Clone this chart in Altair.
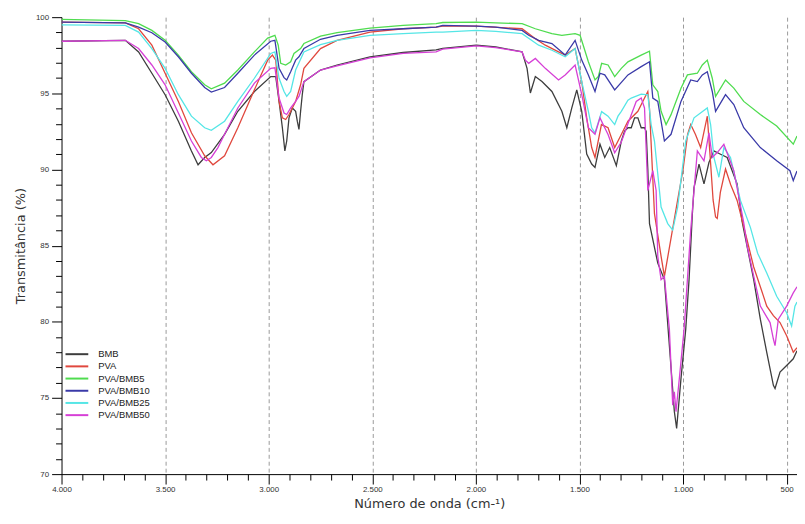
import altair as alt
import pandas as pd

# ---- data (wavenumber cm-1, transmittance %) ----
BMB_W = [4000, 3692, 3628, 3564, 3500, 3436, 3373, 3341, 3309, 3277, 3213, 3149, 3069, 2990, 2966,
         2950, 2934, 2922, 2913, 2902, 2886, 2870, 2862, 2854, 2846, 2838, 2830, 2750, 2670, 2511,
         2351, 2192, 2160, 1998, 1904, 1777, 1753, 1737, 1713, 1681, 1633, 1585, 1561, 1537, 1513,
         1489, 1465, 1441, 1425, 1401, 1378, 1354, 1322, 1298, 1282, 1266, 1250, 1234, 1218, 1202,
         1186, 1178, 1170, 1162, 1122, 1090, 1066, 1042, 1031, 1010, 987, 971, 955, 947, 939, 923,
         899, 875, 851, 819, 787, 739, 715, 659, 627, 596, 564, 556, 532, 500, 468, 450]
BMB_V = [98.42, 98.48, 97.72, 96.32, 94.91, 93.17, 91.22, 90.31, 90.79, 91.11, 92.31, 93.82, 95.12, 96.10, 96.10,
         94.47, 92.74, 91.22, 91.87, 93.39, 94.04, 93.82, 93.17, 92.63, 93.82, 94.91, 95.77, 96.53, 96.86, 97.40,
         97.68, 97.85, 97.95, 98.16, 98.05, 97.72, 96.64, 95.02, 96.10, 95.77, 95.12, 93.82, 92.74, 94.04, 95.23,
         93.82, 91.01, 90.36, 90.14, 91.66, 90.79, 91.44, 90.25, 91.87, 92.52, 92.74, 92.74, 93.39, 93.39, 92.74,
         92.74, 92.50, 90.00, 86.45, 83.85, 82.77, 78.43, 74.10, 73.00, 76.27, 79.52, 82.77, 87.10, 88.83, 89.30, 90.35,
         89.05, 90.46, 91.22, 91.00, 90.79, 89.05, 86.60, 82.77, 80.17, 78.00, 75.83, 75.62, 76.70, 77.13, 77.57, 78.10]

PVA_W = [4000, 3692, 3628, 3564, 3500, 3436, 3373, 3309, 3269, 3213, 3149, 3069, 3005, 2982, 2966,
         2950, 2934, 2918, 2902, 2886, 2870, 2846, 2830, 2750, 2670, 2511, 2351, 2192, 2160, 1998,
         1777, 1713, 1665, 1601, 1569, 1521, 1489, 1465, 1441, 1425, 1394, 1362, 1330, 1298, 1266,
         1218, 1186, 1170, 1162, 1138, 1106, 1090, 1058, 1026, 1000, 978, 963, 940, 915, 883,
         870, 855, 843, 835, 820, 795, 770, 739, 723, 691, 659, 627, 596, 564, 532, 500, 468, 450]
PVA_V = [99.67, 99.63, 99.24, 98.16, 96.32, 94.47, 92.41, 90.90, 90.31, 90.90, 92.74, 95.23, 97.18, 97.51, 97.18,
         94.47, 93.39, 93.28, 93.61, 94.04, 94.47, 95.56, 96.64, 97.94, 98.48, 99.02, 99.24, 99.35, 99.41, 99.41,
         99.24, 98.59, 98.16, 97.72, 97.51, 97.94, 95.77, 93.39, 91.44, 90.79, 92.95, 92.74, 91.44, 92.30, 93.17,
         93.82, 94.69, 95.12, 94.00, 87.10, 84.30, 82.98, 85.50, 88.00, 90.00, 92.30, 92.95, 92.30, 91.44, 93.50,
         91.00, 88.00, 86.88, 86.78, 88.50, 90.03, 89.00, 87.97, 87.10, 85.37, 83.60, 82.30, 81.03, 80.40, 79.95, 79.08, 78.00, 78.30]

B5_W = [4000, 3692, 3628, 3564, 3500, 3436, 3373, 3309, 3277, 3213, 3149, 3069, 3005, 2970, 2954,
        2942, 2918, 2894, 2878, 2846, 2830, 2750, 2670, 2511, 2351, 2192, 2160, 1998, 1904, 1777,
        1713, 1633, 1585, 1521, 1497, 1457, 1425, 1409, 1393, 1362, 1330, 1298, 1266, 1202, 1162,
        1146, 1122, 1106, 1082, 1058, 1010, 979, 931, 907, 883, 859, 843, 795, 755, 707, 627, 548, 468, 450]
B5_V = [99.85, 99.78, 99.57, 99.13, 98.48, 97.51, 96.42, 95.56, 95.30, 95.67, 96.53, 97.72, 98.63, 98.81, 98.16,
        96.97, 96.86, 97.07, 97.62, 97.94, 98.27, 98.76, 98.98, 99.28, 99.46, 99.57, 99.65, 99.67, 99.63, 99.57,
        99.24, 98.92, 98.81, 98.92, 98.81, 97.07, 95.88, 96.10, 96.97, 96.86, 96.10, 96.64, 97.07, 97.51, 97.77,
        95.56, 95.12, 93.82, 92.95, 93.60, 95.34, 96.21, 96.32, 96.86, 97.18, 95.99, 94.80, 95.88, 95.34, 94.47, 93.61, 92.85, 91.66, 92.20]

B10_W = [4000, 3692, 3628, 3564, 3500, 3436, 3373, 3309, 3277, 3213, 3149, 3069, 2990, 2970, 2950,
         2926, 2913, 2894, 2870, 2854, 2830, 2750, 2670, 2511, 2351, 2192, 2160, 1998, 1904, 1777,
         1745, 1697, 1633, 1569, 1521, 1489, 1457, 1425, 1401, 1378, 1330, 1266, 1202, 1162, 1146,
         1122, 1090, 1058, 1010, 963, 931, 907, 883, 859, 843, 795, 755, 707, 627, 548, 484, 468, 450]
B10_V = [99.67, 99.63, 99.35, 98.98, 98.37, 97.40, 96.32, 95.38, 95.08, 95.38, 96.32, 97.51, 98.42, 98.48, 96.64,
         96.03, 95.88, 96.42, 97.18, 97.40, 97.94, 98.55, 98.81, 99.13, 99.24, 99.35, 99.46, 99.41, 99.35, 99.13,
         98.81, 98.48, 98.27, 97.51, 98.48, 97.18, 96.21, 95.12, 96.32, 96.21, 95.23, 96.21, 96.75, 97.07, 94.69,
         94.47, 91.87, 92.31, 94.47, 95.88, 95.77, 96.21, 96.42, 95.12, 93.82, 94.91, 94.26, 92.74, 91.44, 90.57, 89.92, 89.27, 89.90]

B25_W = [4000, 3692, 3628, 3564, 3500, 3436, 3373, 3309, 3277, 3213, 3149, 3069, 2990, 2970, 2950,
         2926, 2913, 2894, 2870, 2830, 2750, 2670, 2511, 2351, 2192, 2160, 1998, 1904, 1777, 1697,
         1633, 1569, 1521, 1489, 1457, 1441, 1425, 1393, 1362, 1330, 1314, 1298, 1266, 1250, 1202,
         1170, 1154, 1138, 1122, 1106, 1074, 1050, 1026, 987, 947, 883, 867, 851, 827, 803,
         771, 723, 675, 640, 596, 548, 500, 476, 460, 450]
B25_V = [99.50, 99.46, 99.02, 97.94, 96.64, 94.91, 93.50, 92.74, 92.57, 93.17, 94.47, 95.99, 97.62, 97.72, 95.99,
         95.12, 94.80, 95.12, 96.53, 97.72, 98.20, 98.48, 98.81, 98.92, 99.02, 99.02, 99.13, 99.07, 98.92, 98.16,
         97.83, 97.40, 97.94, 95.77, 93.82, 92.74, 92.40, 93.80, 93.50, 92.95, 93.50, 93.82, 94.55, 94.69, 94.95,
         94.90, 92.95, 91.87, 89.70, 87.53, 86.45, 86.02, 87.53, 91.87, 93.39, 94.04, 92.95, 90.79, 89.49, 91.44,
         90.79, 87.97, 86.20, 84.50, 83.20, 81.68, 80.60, 79.73, 81.03, 81.30]

B50_W = [4000, 3692, 3628, 3564, 3500, 3436, 3373, 3325, 3301, 3277, 3245, 3213, 3149, 3069, 2990,
         2970, 2950, 2926, 2913, 2894, 2870, 2854, 2830, 2750, 2670, 2511, 2351, 2192, 2160, 1998,
         1904, 1777, 1761, 1745, 1713, 1665, 1601, 1569, 1521, 1489, 1457, 1425, 1401, 1378, 1362,
         1330, 1298, 1266, 1226, 1202, 1186, 1170, 1146, 1130, 1122, 1106, 1090, 1066, 1050, 1042,
         1034, 1018, 995, 979, 963, 931, 899, 875, 859, 835, 803, 755, 707, 691, 659, 627,
         580, 564, 556, 540, 500, 468, 450]
B50_V = [98.42, 98.48, 97.94, 96.86, 95.56, 93.71, 91.87, 90.79, 90.57, 90.79, 91.44, 92.31, 94.04, 95.67, 96.64,
         96.68, 94.69, 93.71, 93.61, 94.04, 94.47, 94.80, 95.77, 96.53, 96.81, 97.33, 97.62, 97.72, 97.90, 98.11,
         98.00, 97.72, 97.18, 96.97, 97.29, 96.64, 95.88, 96.21, 96.86, 94.91, 92.74, 92.31, 93.39, 92.74, 92.30,
         91.10, 91.80, 93.00, 94.47, 94.69, 94.04, 88.62, 89.92, 88.62, 84.30, 82.77, 82.98, 79.52, 74.53, 75.40,
         74.10, 76.27, 79.52, 82.77, 86.02, 91.22, 90.57, 92.41, 90.79, 91.11, 91.65, 89.92, 86.50, 85.00, 83.00, 81.03,
         79.95, 78.87, 78.43, 80.17, 81.03, 81.90, 82.30]

SERIES = ["BMB", "PVA", "PVA/BMB5", "PVA/BMB10", "PVA/BMB25", "PVA/BMB50"]
COLORS = ["#3d3d3d", "#e0483e", "#4fdc4f", "#3a3aa8", "#55e6e6", "#d63fd6"]
X_TICKS = list(range(500, 4001, 100))
Y_TICKS = list(range(70, 101))

pairs = [(BMB_W, BMB_V), (PVA_W, PVA_V), (B5_W, B5_V), (B10_W, B10_V), (B25_W, B25_V), (B50_W, B50_V)]
rows = []
for name, (ws, vs) in zip(SERIES, pairs):
    for w, v in zip(ws, vs):
        rows.append({"serie": name, "w": w, "t": v})
df = pd.DataFrame(rows)

chart = alt.Chart(df).mark_line(strokeWidth=1.3, clip=True).encode(
    x=alt.X("w:Q",
            scale=alt.Scale(domain=[4000, 450], nice=False, zero=False),
            axis=alt.Axis(
                title="Número de onda (cm-¹)",
                values=X_TICKS,
                labelExpr="datum.value % 500 === 0 ? replace(format(datum.value, ','), ',', '.') : ''",
                tickSize={"condition": {"test": "datum.value % 500 === 0", "value": 10}, "value": 6},
                grid=True,
                gridDash=[4, 3],
                gridColor="#9a9a9a",
                gridOpacity={"condition": {"test": "datum.value % 500 === 0 && datum.value < 4000", "value": 1}, "value": 0},
                labelFontSize=8,
                labelPadding=2,
                labelFlush=False,
                labelOverlap=False,
                titleFontSize=13,
                titlePadding=4,
            )),
    y=alt.Y("t:Q",
            scale=alt.Scale(domain=[70, 100], nice=False, zero=False),
            axis=alt.Axis(
                title="Transmitância (%)",
                values=Y_TICKS,
                labelExpr="datum.value % 5 === 0 ? datum.value : ''",
                tickSize={"condition": {"test": "datum.value % 5 === 0", "value": 10}, "value": 6},
                grid=False,
                labelFontSize=8,
                labelPadding=3,
                labelOverlap=False,
                titleFontSize=13,
                titlePadding=8,
            )),
    color=alt.Color("serie:N",
                    scale=alt.Scale(domain=SERIES, range=COLORS),
                    sort=SERIES,
                    legend=alt.Legend(orient="none", legendX=8.5, legendY=333, title=None,
                                      symbolType="M-2,0L2,0", symbolSize=132, symbolStrokeWidth=2,
                                      labelFontSize=9.5, labelOffset=14.5, rowPadding=0.3, padding=0,
                                      labelFont="Liberation Sans", labelColor="#222")),
).properties(
    width=742,
    height=461,
    autosize=alt.AutoSizeParams(type="none"),
    padding={"left": 54, "top": 7, "right": 0, "bottom": 40},
).configure_view(
    strokeWidth=0
).configure_axis(
    labelFont="Liberation Sans",
    labelColor="#333",
    titleFont="DejaVu Sans",
    titleFontWeight="normal",
    titleColor="#333",
    domainColor="#000",
    tickColor="#000",
)

chart.save("out.html", embed_options={"renderer": "svg", "actions": False})
